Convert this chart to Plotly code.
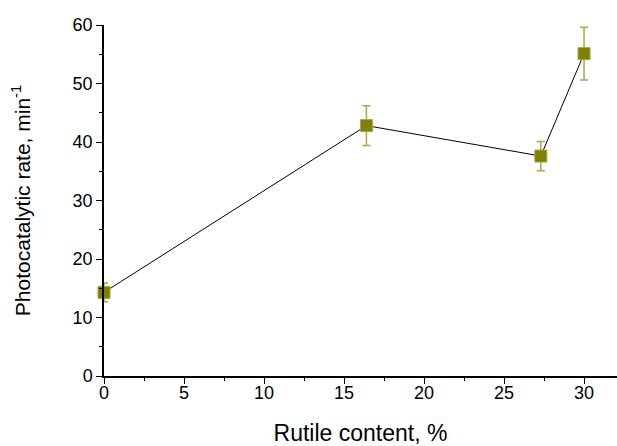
import plotly.graph_objects as go

rutile = [0, 16.4, 27.3, 30.0]
rate = [14.3, 42.8, 37.6, 55.1]
rate_err = [1.6, 3.4, 2.5, 4.5]
x_ticks = [0, 5, 10, 15, 20, 25, 30]
y_ticks = [0, 10, 20, 30, 40, 50, 60]

fig = go.Figure()
fig.add_trace(go.Scatter(
    x=rutile, y=rate,
    mode="lines+markers",
    line=dict(color="black", width=1),
    marker=dict(symbol="square", size=12, color="#808000",
                line=dict(color="#a6a640", width=1)),
    error_y=dict(type="data", array=rate_err, visible=True,
                 color="#a8a850", thickness=1.5, width=4),
    cliponaxis=False,
    showlegend=False,
))

font = "Liberation Sans, Arial, sans-serif"
fig.update_layout(
    width=617, height=446,
    margin=dict(l=104, r=0, t=25, b=70),
    paper_bgcolor="white", plot_bgcolor="white",
    font=dict(family=font, color="black"),
    xaxis=dict(
        range=[0, 32.06], tickvals=x_ticks, ticks="outside", ticklen=6,
        tickwidth=1, tickcolor="black", showline=True, linecolor="black",
        linewidth=1.5, showgrid=False, zeroline=False,
        tickfont=dict(size=18, family=font), ticklabelstandoff=-6,
        minor=dict(ticks="outside", ticklen=3, dtick=2.5, tickcolor="black", showgrid=False),
        title=dict(text="Rutile content, %", font=dict(size=23, family=font), standoff=26),
    ),
    yaxis=dict(
        range=[0, 60], tickvals=y_ticks, ticks="outside", ticklen=6,
        tickwidth=1, tickcolor="black", showline=True, linecolor="black",
        linewidth=1.5, showgrid=False, zeroline=False,
        tickfont=dict(size=18, family=font),
        minor=dict(ticks="outside", ticklen=3, dtick=5, tickcolor="black", showgrid=False),
        title=dict(text="Photocatalytic rate, min<sup>-1</sup>", font=dict(size=21, family=font), standoff=36),
    ),
)
fig.write_html("out.html")
